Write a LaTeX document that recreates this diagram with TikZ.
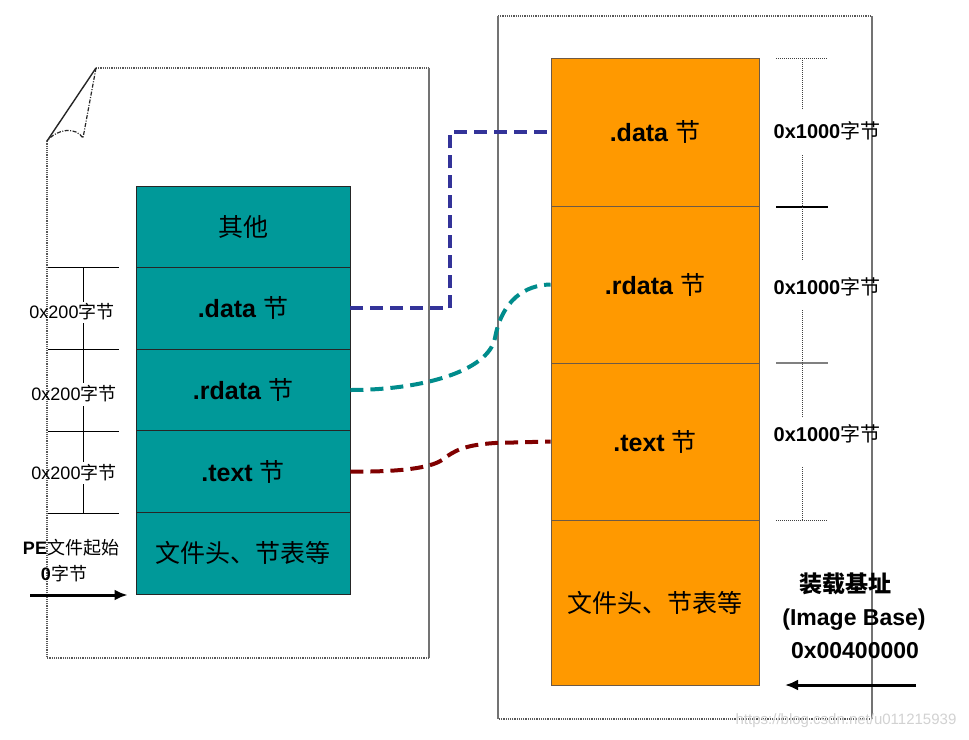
\documentclass[tikz,border=0pt]{standalone}
\usepackage{fontspec}
\setmainfont{Liberation Sans}
\newfontfamily\cjk{Noto Sans CJK SC}
\usetikzlibrary{arrows.meta}
\definecolor{tealbox}{RGB}{0,153,153}
\definecolor{orangebox}{RGB}{255,153,0}
\definecolor{dblue}{RGB}{51,51,153}
\definecolor{dteal}{RGB}{0,140,140}
\definecolor{dred}{RGB}{128,0,0}
\definecolor{oborder}{RGB}{110,90,70}
\begin{document}
\begin{tikzpicture}[x=1pt,y=-1pt,
  sec/.style={line width=0.9pt, inner sep=0pt, anchor=center, text=black},
  tsec/.style={sec, draw=black!85, fill=tealbox, minimum width=214pt, minimum height=81.6pt, font=\fontsize{25}{30}\selectfont},
  osec/.style={sec, draw=oborder, fill=orangebox, minimum width=208pt, font=\fontsize{25}{30}\selectfont},
  llab/.style={inner sep=0pt, font=\fontsize{18}{21}\selectfont},
  rlab/.style={inner sep=0pt, font=\fontsize{20}{24}\selectfont\bfseries},
  blab/.style={inner sep=0pt, font=\fontsize{23}{27}\selectfont\bfseries},
  link/.style={line width=4pt, dash pattern=on 13pt off 7pt},
  edgedot/.style={black!65, line width=1.2pt, densely dotted},
  edgesolid/.style={black!55, line width=1.4pt},
  ruler/.style={black, line width=0.9pt},
  rulerdot/.style={black!75, line width=1pt, densely dotted},
  bigarrow/.style={line width=3pt, -{Latex[length=13pt,width=11pt]}}
]
\useasboundingbox (0,0) rectangle (969,739);
\fill[white] (0,0) rectangle (969,739);

% ---------- left page (PE file) ----------
\draw[edgedot] (96,68) -- (429,68);
\draw[edgesolid] (429,68) -- (429,658);
\draw[edgedot] (429,658) -- (47,658) -- (47,141);
\draw[black!85, line width=1.4pt] (47,141) -- (96,68);
\draw[black!85, line width=1.2pt, dash pattern=on 4pt off 1.5pt on 1pt off 1.5pt] (96,68) -- (83,138) .. controls (76,127) and (58,128) .. (47,141);

% ---------- right frame (memory) ----------
\draw[edgedot] (498,16) -- (872,16);
\draw[edgesolid] (872,16) -- (872,719);
\draw[edgedot] (872,719) -- (498,719);
\draw[edgesolid] (498,719) -- (498,16);

% ---------- teal sections ----------
\node[tsec] (tother) at (243,226.8) {\cjk 其他};
\node[tsec] (tdata)  at (243,308.4) {\textbf{.data} {\cjk 节}};
\node[tsec] (trdata) at (243,390.0) {\textbf{.rdata} {\cjk 节}};
\node[tsec] (ttext)  at (243,471.6) {\textbf{.text} {\cjk 节}};
\node[tsec] (thead)  at (243,553.2) {\cjk 文件头、节表等};

% ---------- orange sections ----------
\node[osec, minimum height=148pt] (odata)  at (655,132)   {\textbf{.data} {\cjk 节}};
\node[osec, minimum height=157pt] (ordata) at (655,284.5) {\textbf{.rdata} {\cjk 节}};
\node[osec, minimum height=157pt] (otext)  at (655,441.5) {\textbf{.text} {\cjk 节}};
\node[osec, minimum height=165pt] (ohead)  at (655,602.5) {\cjk 文件头、节表等};

% ---------- connectors ----------
\draw[link, dblue] (tdata.east) -- ([xshift=100pt]tdata.east) |- (odata.west);
\draw[link, dteal] (trdata.east) .. controls (420,390) and (488,372) .. (495,338)
   .. controls (502,300) and (525,285) .. (ordata.west);
\draw[link, dred] (ttext.east) .. controls (400,472) and (430,468) .. (442,460)
   .. controls (455,450) and (465,445) .. (495,443) -- (otext.west);

% ---------- left ruler ----------
\foreach \yy in {267,349,431,513} \draw[ruler] (48,\yy) -- (119,\yy);
\draw[ruler] (83,267) -- (83,302);
\draw[ruler] (83,323) -- (83,383);
\draw[ruler] (83,406) -- (83,462);
\draw[ruler] (83,484) -- (83,513);
\node[llab] (l1) at (72,312) {0x200{\cjk 字节}};
\node[llab] (l2) at (74,394) {0x200{\cjk 字节}};
\node[llab] (l3) at (74,473) {0x200{\cjk 字节}};
\node[llab] (pe) at (71,548) {\textbf{PE}{\cjk 文件起始}};
\node[llab] (pe0) at (64,574) {\textbf{0}{\cjk 字节}};
\coordinate (la) at (30,595);
\draw[bigarrow] (la) -- ([xshift=-8pt]thead.south west |- la);

% ---------- right ruler ----------
\draw[rulerdot] (776,58) -- (828,58);
\draw[black, line width=1.6pt] (776,207) -- (828,207);
\draw[gray, line width=1.1pt] (776,363) -- (828,363);
\draw[rulerdot] (776,520) -- (828,520);
\draw[rulerdot] (802,60) -- (802,110);
\draw[rulerdot] (802,155) -- (802,260);
\draw[rulerdot] (802,310) -- (802,418);
\draw[rulerdot] (802,467) -- (802,520);
\node[rlab] (r1) at (827,131) {0x1000{\cjk\mdseries 字节}};
\node[rlab] (r2) at (827,287) {0x1000{\cjk\mdseries 字节}};
\node[rlab] (r3) at (827,434) {0x1000{\cjk\mdseries 字节}};

% ---------- image base ----------
\node[blab] (ib1) at (845,584) {\cjk 装载基址};
\node[blab] (ib2) at (854,620) {(Image Base)};
\node[blab] (ib3) at (855,651) {0x00400000};
\coordinate (ra) at (916,685);
\draw[bigarrow] (ra) -- (785,685);

% ---------- watermark ----------
\node[inner sep=0pt, text=gray!35, font=\fontsize{15}{18}\selectfont] (wm) at (846,721) {https://blog.csdn.net/u011215939};
\end{tikzpicture}
\end{document}
